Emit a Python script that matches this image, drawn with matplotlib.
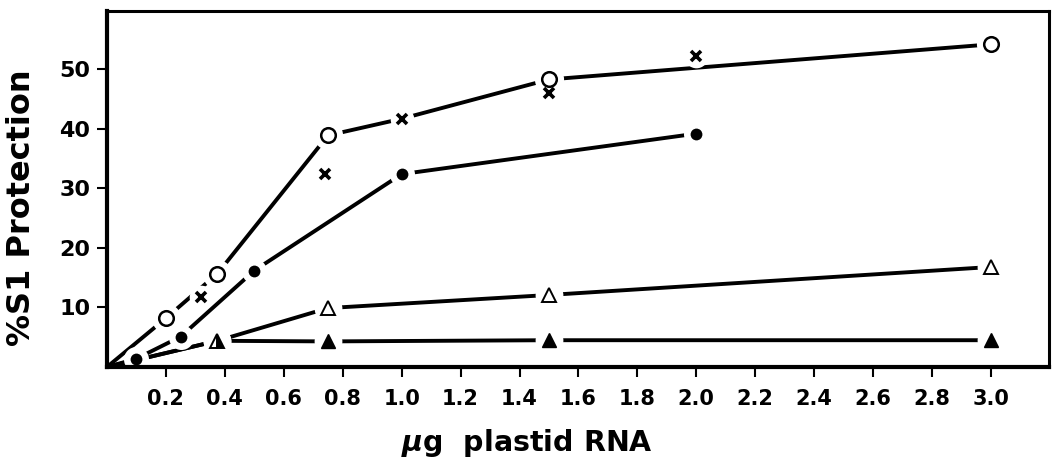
import matplotlib
matplotlib.use("Agg")
import matplotlib.pyplot as plt

# ---- data ----
x_ticks = [0.2, 0.4, 0.6, 0.8, 1.0, 1.2, 1.4, 1.6, 1.8, 2.0, 2.2, 2.4, 2.6, 2.8, 3.0]
x_tick_labels = ["0.2", "0.4", "0.6", "0.8", "1.0", "1.2", "1.4", "1.6", "1.8",
                 "2.0", "2.2", "2.4", "2.6", "2.8", "3.0"]
y_ticks = [10, 20, 30, 40, 50]
y_tick_labels = ["10", "20", "30", "40", "50"]

open_circle_x = [0.2, 0.375, 0.75, 1.5, 3.0]
open_circle_y = [8.2, 15.7, 38.9, 48.3, 54.2]
open_curve_x = [0, 0.2, 0.375, 0.75, 1.0, 1.5, 3.0]
open_curve_y = [0, 8.2, 15.7, 38.9, 41.7, 48.3, 54.2]

cross_x = [0.32, 0.74, 1.0, 1.5, 2.0]
cross_y = [11.8, 32.5, 41.7, 46.1, 52.3]

filled_circle_x = [0.1, 0.25, 0.5, 1.0, 2.0]
filled_circle_y = [1.4, 5.1, 16.2, 32.4, 39.2]
filled_curve_x = [0, 0.1, 0.25, 0.5, 1.0, 2.0]
filled_curve_y = [0, 1.4, 5.1, 16.2, 32.4, 39.2]

open_tri_x = [0.375, 0.75, 1.5, 3.0]
open_tri_y = [4.4, 9.9, 12.1, 16.8]
filled_tri_x = [0.375, 0.75, 1.5, 3.0]
filled_tri_y = [4.4, 4.3, 4.5, 4.5]

plt.rcParams['font.family'] = ['DejaVu Sans']
plt.rcParams['font.weight'] = 'bold'

W, H = 1052, 466
fig = plt.figure(figsize=(W / 100, H / 100), dpi=100)
ax = fig.add_axes([107 / W, 1 - 367 / H, (1049 - 107) / W, (367 - 11) / H])
ax.set_xlim(0, 3.197)
ax.set_ylim(0, 59.8)

LW = 2.8


def halo(xs, ys, marker, size):
    ax.plot(xs, ys, marker=marker, ms=size, mew=0, mfc='white', mec='white',
            linestyle='none', zorder=3, clip_on=False)


# lines
ax.plot(open_curve_x, open_curve_y, color='black', lw=LW, zorder=2, solid_capstyle='butt')
ax.plot(filled_curve_x, filled_curve_y, color='black', lw=LW, zorder=2, solid_capstyle='butt')
ax.plot([0] + open_tri_x, [0] + open_tri_y, color='black', lw=LW, zorder=2, solid_capstyle='butt')
ax.plot([0] + filled_tri_x, [0] + filled_tri_y, color='black', lw=LW, zorder=2, solid_capstyle='butt')

# white halos to create gaps between lines and markers
halo(open_circle_x, open_circle_y, 'o', 21)
halo(cross_x, cross_y, 'o', 17)
halo(filled_circle_x, filled_circle_y, 'o', 18)
halo(open_tri_x, open_tri_y, 'o', 20)
halo(filled_tri_x, filled_tri_y, 'o', 20)

# markers
ax.plot(open_circle_x, open_circle_y, marker='o', ms=10.5, mew=1.8, mfc='white',
        mec='black', linestyle='none', zorder=5, clip_on=False)
ax.plot(cross_x, cross_y, marker='x', ms=7.5, mew=2.6, color='black',
        linestyle='none', zorder=5, clip_on=False)
ax.plot(filled_circle_x, filled_circle_y, marker='o', ms=8.5, mew=0, color='black',
        linestyle='none', zorder=5, clip_on=False)
ax.plot(open_tri_x[1:], open_tri_y[1:], marker='^', ms=10.5, mew=1.4, mfc='white',
        mec='black', linestyle='none', zorder=5, clip_on=False)
ax.plot(filled_tri_x[1:], filled_tri_y[1:], marker='^', ms=10.5, mew=1.0, color='black',
        linestyle='none', zorder=5, clip_on=False)
ax.plot(filled_tri_x[:1], filled_tri_y[:1], marker='^', ms=10.5, mew=1.4,
        fillstyle='right', mfc='black', mfcalt='white', mec='black',
        linestyle='none', zorder=5, clip_on=False)

# axes styling
for side in ['left', 'bottom']:
    ax.spines[side].set_linewidth(3.0)
    ax.spines[side].set_zorder(6)
for side in ['top', 'right']:
    ax.spines[side].set_linewidth(2.2)

ax.set_xticks(x_ticks)
ax.set_xticklabels(x_tick_labels, fontsize=15, fontweight='bold')
ax.set_yticks(y_ticks)
ax.set_yticklabels(y_tick_labels, fontsize=16, fontweight='bold')
ax.tick_params(axis='x', direction='out', length=7.5, width=1.5, pad=8)
ax.tick_params(axis='y', direction='out', length=7, width=1.5, pad=5)
ax.tick_params(top=False, right=False)

fig.text(22 / W, 1 - 208 / H, "%S1 Protection", rotation=90, ha='center', va='center',
         fontsize=23, fontweight='bold')
fig.text(527 / W, 1 - 443 / H, r"$\mu$g  plastid RNA", ha='center', va='center',
         fontsize=20.5, fontweight='bold')

fig.savefig("out.png", dpi=100)
